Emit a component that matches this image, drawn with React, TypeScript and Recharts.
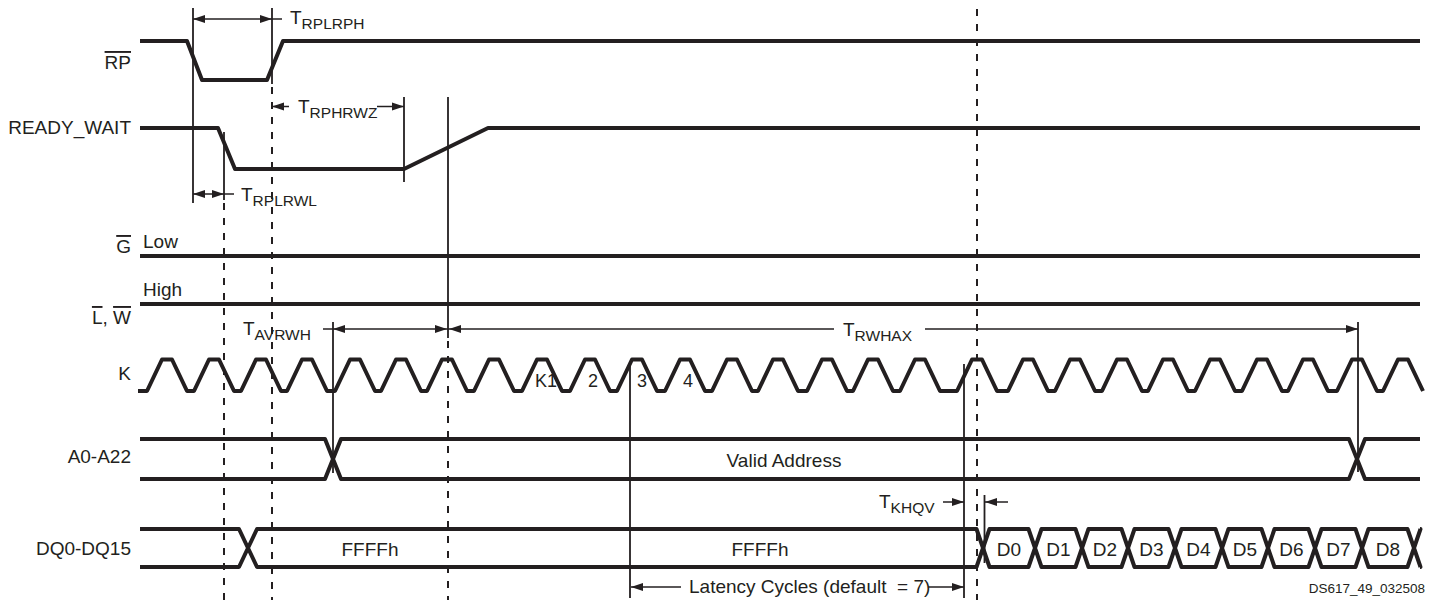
import {
  ComposedChart,
  Line,
  Scatter,
  XAxis,
  YAxis,
  ReferenceLine,
} from 'recharts'

const INK = '#231f20'
const FONT = "'Liberation Sans', Arial, Helvetica, sans-serif"

// waveforms: t = time along the diagram, v = logic level (1 high, 0 low)
const rpWave = [
  { t: 140, v: 1 }, { t: 187, v: 1 }, { t: 202, v: 0 },
  { t: 267, v: 0 }, { t: 283, v: 1 }, { t: 1420, v: 1 },
]
const readyWave = [
  { t: 140, v: 1 }, { t: 218, v: 1 }, { t: 235, v: 0 },
  { t: 404, v: 0 }, { t: 488, v: 1 }, { t: 1420, v: 1 },
]
const gWave = [{ t: 140, v: 0 }, { t: 1420, v: 0 }]
const lwWave = [{ t: 140, v: 1 }, { t: 1420, v: 1 }]

// K clock: centre of each high phase
const kHighs = [
  167, 214, 261, 307, 355, 401, 447, 494, 542, 590, 637, 685, 732, 778,
  827, 873, 920, 977, 1028, 1075, 1122, 1168, 1215, 1262, 1308, 1357, 1403,
]
const kStart = 138

// buses: where the value changes
const addrCross = [333, 1357]
const dqCross = [248, 983, 1035, 1082, 1128, 1175, 1222, 1268, 1315, 1362, 1414]
const dqWords = ['D0', 'D1', 'D2', 'D3', 'D4', 'D5', 'D6', 'D7', 'D8']
const dqIdle = [{ t: 370, text: 'FFFFh' }, { t: 760, text: 'FFFFh' }]
const kCounts = [
  { t: 535, text: 'K1' }, { t: 588, text: '2' }, { t: 637, text: '3' }, { t: 683, text: '4' },
]

// layout of the lanes (y in page units, top down)
const lanes = {
  rp: { hi: 41, lo: 80 },
  ready: { hi: 128, lo: 169 },
  g: { hi: 256, lo: 256 },
  lw: { hi: 304, lo: 304 },
  k: { hi: 359.5, lo: 391 },
  addr: { hi: 439, lo: 479 },
  dq: { hi: 529, lo: 567 },
}
type Lane = { hi: number; lo: number }
type Pt = { t: number; v: number }

const toPts = (wave: Pt[], lane: Lane) =>
  wave.map(p => ({ x: p.t, y: lane.lo + p.v * (lane.hi - lane.lo) }))

function clockWave(highs: number[], start: number): Pt[] {
  const pts: Pt[] = [{ t: start, v: 0 }]
  highs.forEach(h => {
    pts.push({ t: h - 20, v: 0 }, { t: h - 5, v: 1 }, { t: h + 5, v: 1 }, { t: h + 20, v: 0 })
  })
  return pts
}

// one polyline per bus value, open at the two ends of the diagram
function busCells(start: number, cross: number[], end: number, hw: (i: number) => number): Pt[][] {
  const b = [start, ...cross, end]
  const cells: Pt[][] = []
  for (let i = 0; i < b.length - 1; i++) {
    const a = b[i], c = b[i + 1]
    const ha = i > 0 ? hw(i - 1) : 0
    const hc = hw(i)
    if (i === 0) {
      cells.push([{ t: a, v: 1 }, { t: c - hc, v: 1 }, { t: c, v: 0.5 }, { t: c - hc, v: 0 }, { t: a, v: 0 }])
    } else if (i === b.length - 2) {
      cells.push([{ t: c, v: 1 }, { t: a + ha, v: 1 }, { t: a, v: 0.5 }, { t: a + ha, v: 0 }, { t: c, v: 0 }])
    } else {
      cells.push([
        { t: a, v: 0.5 }, { t: a + ha, v: 1 }, { t: c - hc, v: 1 }, { t: c, v: 0.5 },
        { t: c - hc, v: 0 }, { t: a + ha, v: 0 }, { t: a, v: 0.5 },
      ])
    }
  }
  return cells
}

const waves = [
  toPts(rpWave, lanes.rp),
  toPts(readyWave, lanes.ready),
  toPts(gWave, lanes.g),
  toPts(lwWave, lanes.lw),
  toPts(clockWave(kHighs, kStart), lanes.k),
  ...busCells(140, addrCross, 1420, () => 8).map(c => toPts(c, lanes.addr)),
  ...busCells(140, dqCross, 1420, i => (i === 0 ? 9 : 6.5)).map(c => toPts(c, lanes.dq)),
]

// timing markers (vertical), arrows and texts
const markers = [
  { t: 193, y1: 8, y2: 203 },
  { t: 272, y1: 8, y2: 84 }, { t: 272, y1: 87, y2: 600, dash: true },
  { t: 224, y1: 132, y2: 200 }, { t: 224, y1: 203, y2: 600, dash: true },
  { t: 404, y1: 97, y2: 182 },
  { t: 448, y1: 97, y2: 338 }, { t: 448, y1: 341, y2: 600, dash: true },
  { t: 333, y1: 322, y2: 473 },
  { t: 630, y1: 364, y2: 598 },
  { t: 964, y1: 364, y2: 598 },
  { t: 977, y1: 9, y2: 600, dash: true },
  { t: 984.5, y1: 495, y2: 563 },
  { t: 1358, y1: 322, y2: 472 },
]

const arrows = [
  { y: 19, shafts: [[193, 282]], heads: [[193, -1], [272, 1]] },
  { y: 106.5, shafts: [[272, 289], [377, 404]], heads: [[272, -1], [404, 1]] },
  { y: 194, shafts: [[193, 234]], heads: [[193, -1], [224, 1]] },
  { y: 329, shafts: [[323, 448]], heads: [[333, -1], [447, 1]] },
  { y: 329, shafts: [[448, 834], [925, 1358]], heads: [[449, -1], [1358, 1]] },
  { y: 502, shafts: [[943, 964], [985, 1008]], heads: [[964, 1], [985, -1]] },
  { y: 587, shafts: [[631, 681], [928, 964]], heads: [[631, -1], [964, 1]] },
]
const arrowHeads = arrows.flatMap(a => a.heads.map(([x, dir]) => ({ x, y: a.y, dir })))

type Part = { s: string; over?: boolean }
type Mark = { x: number; y: number; text?: string; parts?: Part[]; sub?: string; anchor?: string; size?: number }

const textMarks: Mark[] = [
  { x: 131, y: 69, parts: [{ s: 'RP', over: true }], anchor: 'end' },
  { x: 131, y: 134, text: 'READY_WAIT', anchor: 'end' },
  { x: 131, y: 253, parts: [{ s: 'G', over: true }], anchor: 'end' },
  { x: 143, y: 248, text: 'Low' },
  { x: 143, y: 296, text: 'High' },
  { x: 131, y: 324, parts: [{ s: 'L', over: true }, { s: ', ' }, { s: 'W', over: true }], anchor: 'end' },
  { x: 131, y: 380, text: 'K', anchor: 'end' },
  { x: 131, y: 463, text: 'A0-A22', anchor: 'end' },
  { x: 131, y: 555, text: 'DQ0-DQ15', anchor: 'end' },
  { x: 290, y: 24, text: 'T', sub: 'RPLRPH' },
  { x: 298, y: 113, text: 'T', sub: 'RPHRWZ' },
  { x: 241, y: 201, text: 'T', sub: 'RPLRWL' },
  { x: 243, y: 335, text: 'T', sub: 'AVRWH' },
  { x: 843, y: 336, text: 'T', sub: 'RWHAX' },
  { x: 879, y: 508, text: 'T', sub: 'KHQV' },
  { x: 784, y: 467, text: 'Valid Address', anchor: 'middle' },
  { x: 689, y: 593, text: 'Latency Cycles (default  = 7)' },
  { x: 1425, y: 593, text: 'DS617_49_032508', anchor: 'end', size: 13.5 },
  ...kCounts.map(k => ({ x: k.t, y: 387, text: k.text, size: 18 })),
  ...dqIdle.map(d => ({ x: d.t, y: 556, text: d.text, anchor: 'middle' })),
  ...dqWords.map((w, i) => ({ x: (dqCross[i + 1] + dqCross[i + 2]) / 2, y: 556, text: w, anchor: 'middle' })),
]

function ArrowHead(props: any) {
  const { cx, cy, payload } = props
  const d = payload.dir
  return <polygon points={`${cx},${cy} ${cx - d * 12},${cy - 4} ${cx - d * 12},${cy + 4}`} fill={INK} />
}

function TextMark(props: any) {
  const { cx, cy, payload } = props
  const p = payload as Mark
  const parts = p.parts ?? [{ s: p.text ?? '' }]
  return (
    <text
      x={cx}
      y={cy}
      fontSize={p.size ?? 19}
      textAnchor={p.anchor ?? 'start'}
      fill={INK}
      fontFamily={FONT}
      style={{ whiteSpace: 'pre' }}
    >
      {parts.map((part, i) => (
        <tspan key={i} style={part.over ? { textDecoration: 'overline' } : undefined}>{part.s}</tspan>
      ))}
      {p.sub && <tspan fontSize={15.5} dy={5}>{p.sub}</tspan>}
    </text>
  )
}

export default function App() {
  return (
    <div style={{ position: 'absolute', left: 0, top: 0, background: '#fff' }}>
      <ComposedChart width={1434} height={602} margin={{ top: 0, right: 0, bottom: 0, left: 0 }}>
        <XAxis type="number" dataKey="x" domain={[0, 1434]} hide allowDataOverflow />
        <YAxis type="number" dataKey="y" domain={[0, 602]} reversed hide allowDataOverflow />
        {markers.map((m, i) => (
          <ReferenceLine
            key={`m${i}`}
            segment={[{ x: m.t, y: m.y1 }, { x: m.t, y: m.y2 }]}
            stroke={INK}
            strokeWidth={m.dash ? 2 : 1.8}
            strokeDasharray={m.dash ? '7 8' : undefined}
            ifOverflow="visible"
          />
        ))}
        {arrows.flatMap((a, i) =>
          a.shafts.map(([x1, x2], j) => (
            <ReferenceLine
              key={`a${i}-${j}`}
              segment={[{ x: x1, y: a.y }, { x: x2, y: a.y }]}
              stroke={INK}
              strokeWidth={1.5}
              ifOverflow="visible"
            />
          ))
        )}
        {waves.map((pts, i) => (
          <Line
            key={`w${i}`}
            data={pts}
            dataKey="y"
            type="linear"
            stroke={INK}
            strokeWidth={4}
            strokeLinejoin="round"
            dot={false}
            activeDot={false}
            isAnimationActive={false}
          />
        ))}
        <Scatter data={arrowHeads} dataKey="y" shape={ArrowHead} isAnimationActive={false} />
        <Scatter data={textMarks} dataKey="y" shape={TextMark} isAnimationActive={false} />
      </ComposedChart>
    </div>
  )
}
